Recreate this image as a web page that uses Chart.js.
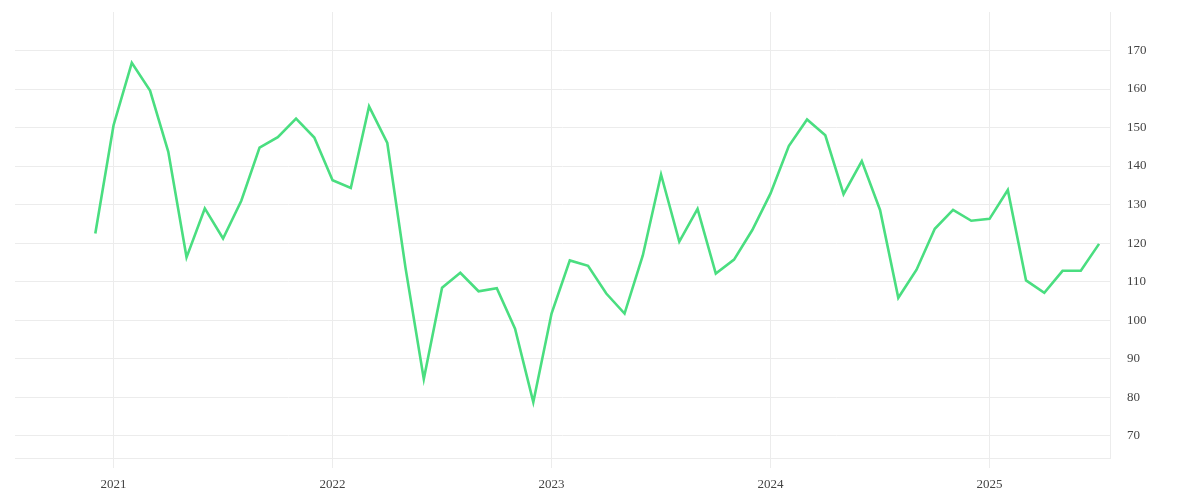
<!DOCTYPE html>
<html>
<head>
<meta charset="utf-8">
<script src="https://cdn.jsdelivr.net/npm/chart.js@4/dist/chart.umd.min.js"></script>
<style>
  html, body { margin: 0; padding: 0; background: #fff; }
  #wrap { width: 1200px; height: 500px; }
</style>
</head>
<body>
<div id="wrap"><canvas id="graph"></canvas></div>
<script>
// Mois (AAAA-MM) et valeurs
var months = [
    "2020-12",
    "2021-01", "2021-02", "2021-03", "2021-04", "2021-05", "2021-06",
    "2021-07", "2021-08", "2021-09", "2021-10", "2021-11", "2021-12",
    "2022-01", "2022-02", "2022-03", "2022-04", "2022-05", "2022-06",
    "2022-07", "2022-08", "2022-09", "2022-10", "2022-11", "2022-12",
    "2023-01", "2023-02", "2023-03", "2023-04", "2023-05", "2023-06",
    "2023-07", "2023-08", "2023-09", "2023-10", "2023-11", "2023-12",
    "2024-01", "2024-02", "2024-03", "2024-04", "2024-05", "2024-06",
    "2024-07", "2024-08", "2024-09", "2024-10", "2024-11", "2024-12",
    "2025-01", "2025-02", "2025-03", "2025-04", "2025-05", "2025-06",
    "2025-07"
];
var values = [
    122.5,
    150.6, 166.8, 159.6, 143.7, 116.3, 129.0,
    121.2, 131.0, 144.8, 147.5, 152.3, 147.4,
    136.3, 134.3, 155.5, 146.0, 113.5, 84.7,
    108.4, 112.3, 107.5, 108.3, 97.8, 78.7,
    101.7, 115.5, 114.1, 106.9, 101.7, 116.8,
    137.8, 120.4, 128.9, 112.1, 115.7, 123.4,
    132.9, 145.2, 152.1, 148.0, 132.7, 141.3,
    128.6, 105.8, 113.1, 123.7, 128.6, 125.8,
    126.3, 133.8, 110.3, 107.1, 112.8, 112.8,
    119.8
];
var yearTicks = [2021, 2022, 2023, 2024, 2025];
var valueTicks = [70, 80, 90, 100, 110, 120, 130, 140, 150, 160, 170];

var baseYear = yearTicks[0];

//Conversion d'un mois "AAAA-MM" en nombre de mois depuis janvier de l'année de base
function monthIndex(m) {
    var parts = m.split("-");
    return (parseInt(parts[0], 10) - baseYear) * 12 + (parseInt(parts[1], 10) - 1);
}

var points = [];
for (var i = 0; i < months.length; i++) {
    points.push({ x: monthIndex(months[i]), y: values[i] });
}

var gridColor = "#ececec";
var tickFont = { family: "'Liberation Serif', serif", size: 13 };

//On enlève le rembourrage ajouté par les étiquettes pour garder la zone du graphique fixe
function noPadding(axis) {
    axis.paddingTop = 0;
    axis.paddingBottom = 0;
    axis.paddingLeft = 0;
    axis.paddingRight = 0;
}

var ctx = document.getElementById("graph").getContext("2d");
window.myChart = new Chart(ctx, {
    type: "line",
    data: {
        datasets: [{
            data: points,
            borderColor: "#4ade80",
            borderWidth: 2.6,
            pointRadius: 0,
            pointHoverRadius: 0,
            tension: 0,
            fill: false
        }]
    },
    options: {
        responsive: true,
        maintainAspectRatio: false,
        animation: false,
        layout: { padding: { left: 15, top: 12, right: 0, bottom: 0 } },
        plugins: {
            legend: { display: false },
            tooltip: { enabled: false }
        },
        scales: {
            x: {
                type: "linear",
                min: -5.4,
                max: 54.6,
                afterBuildTicks: function(axis) {
                    //On ne garde que les débuts d'année
                    axis.ticks = yearTicks.map(function(y) { return { value: (y - baseYear) * 12 }; });
                },
                afterFit: function(axis) { axis.height = 42; noPadding(axis); },
                grid: { color: gridColor, tickLength: 10, drawTicks: true },
                border: { color: gridColor },
                ticks: {
                    padding: 9,
                    color: "#444",
                    font: tickFont,
                    maxRotation: 0,
                    autoSkip: false,
                    callback: function(v) { return String(baseYear + v / 12); }
                }
            },
            y: {
                position: "right",
                min: 64.2,
                max: 180,
                afterBuildTicks: function(axis) {
                    axis.ticks = valueTicks.map(function(v) { return { value: v }; });
                },
                afterFit: function(axis) { axis.width = 90; noPadding(axis); },
                grid: { color: gridColor, drawTicks: false },
                border: { color: gridColor },
                ticks: {
                    padding: 17,
                    color: "#444",
                    font: tickFont,
                    autoSkip: false
                }
            }
        }
    }
});
</script>
</body>
</html>
